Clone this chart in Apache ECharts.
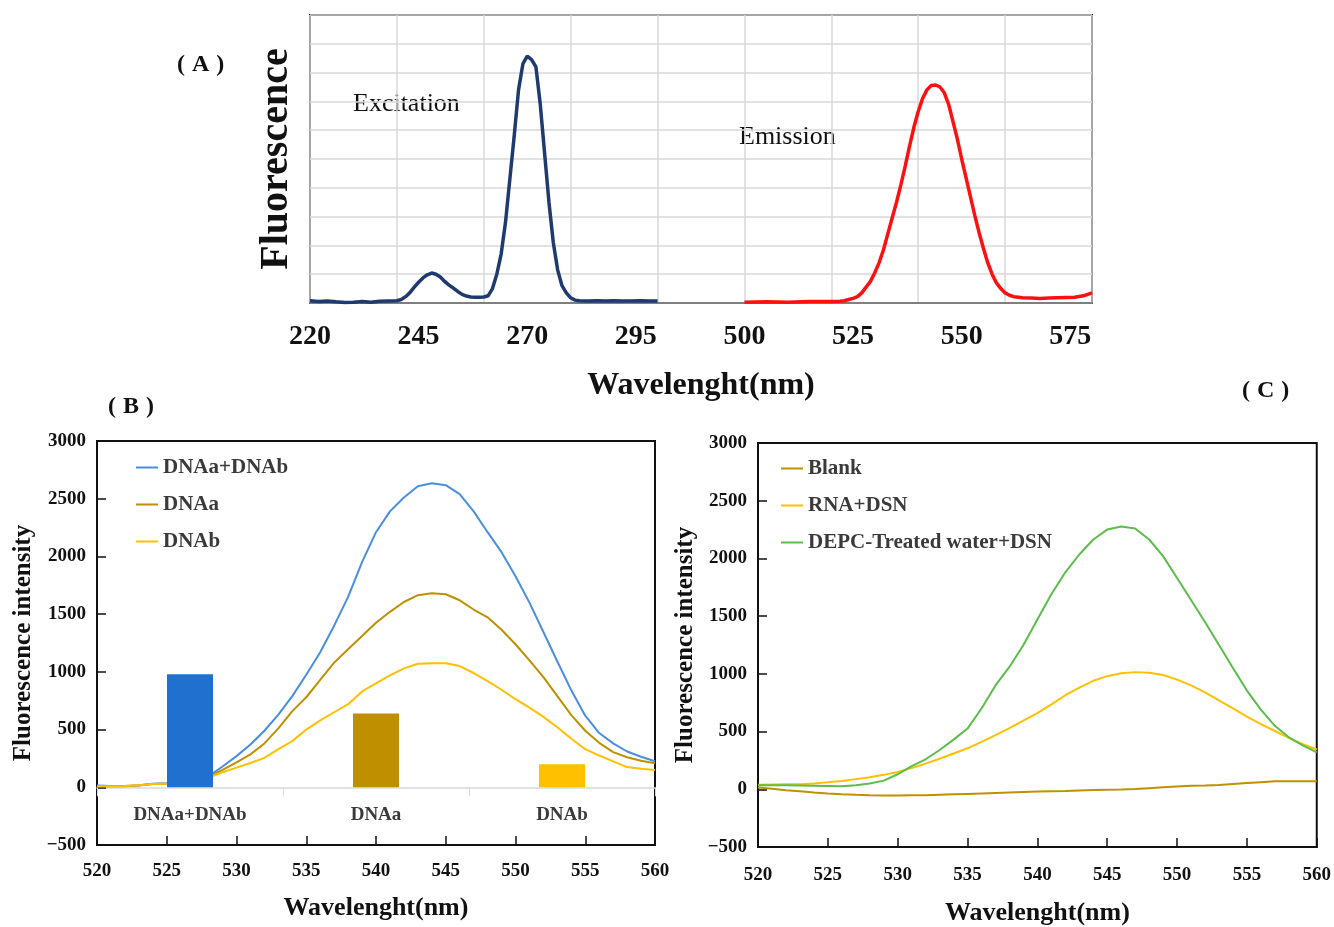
<!DOCTYPE html>
<html>
<head>
<meta charset="utf-8">
<script src="https://cdn.jsdelivr.net/npm/echarts@6/dist/echarts.min.js"></script>
<style>
  html, body { margin: 0; padding: 0; background: #fff; }
  #main { width: 1334px; height: 927px; }
</style>
</head>
<body>
<div id="main"></div>
<script>
const serif = '"Liberation Serif", "Times New Roman", serif';

// ---- (A) excitation / emission spectra (arbitrary units) ----
const excitationWl = [220, 222, 224, 226, 228, 230, 232, 234, 236, 238,
  240, 241, 242, 243, 244, 245, 246, 247, 248, 249, 250, 251, 252, 253, 254, 255, 256, 257, 258, 259,
  260, 261, 262, 263, 264, 265, 266, 267, 268, 269, 270, 271, 272, 273, 274, 275, 276, 277, 278, 279,
  280, 281, 282, 284, 286, 288, 290, 292, 294, 296, 298, 300];
const excitationVal = [0.08, 0.05, 0.07, 0.04, 0.02, 0.03, 0.05, 0.03, 0.06, 0.07,
  0.08, 0.12, 0.22, 0.36, 0.55, 0.72, 0.87, 0.98, 1.04, 1.0, 0.9, 0.75, 0.62, 0.52, 0.4, 0.3, 0.24, 0.21, 0.2, 0.2,
  0.21, 0.25, 0.5, 1.0, 1.7, 2.8, 4.3, 5.8, 7.4, 8.3, 8.57, 8.45, 8.2, 6.9, 5.2, 3.5, 2.1, 1.15, 0.6, 0.35,
  0.18, 0.1, 0.08, 0.07, 0.08, 0.07, 0.08, 0.07, 0.07, 0.08, 0.07, 0.07];
const emissionWl = [500, 505, 510, 515, 520, 522, 523, 524, 525, 526, 527, 528, 529,
  530, 531, 532, 533, 534, 535, 536, 537, 538, 539, 540, 541, 542, 543, 544, 545, 546, 547, 548, 549,
  550, 551, 552, 553, 554, 555, 556, 557, 558, 559, 560, 561, 562, 564, 566, 568, 570, 572, 574, 576, 578, 580];
const emissionVal = [0.03, 0.04, 0.03, 0.05, 0.05, 0.06, 0.08, 0.12, 0.16, 0.22, 0.35, 0.55, 0.75,
  1.05, 1.4, 1.85, 2.4, 2.95, 3.5, 4.1, 4.75, 5.45, 6.1, 6.65, 7.1, 7.4, 7.55, 7.57, 7.5, 7.3, 6.9, 6.3, 5.7,
  5.0, 4.35, 3.7, 3.05, 2.45, 1.9, 1.4, 1.0, 0.7, 0.5, 0.35, 0.27, 0.22, 0.18, 0.17, 0.16, 0.17, 0.18, 0.19, 0.2, 0.25, 0.35];
// broken wavelength axis: 220-300 then 500-580
const axisAStart = 220, breakFrom = 300, breakTo = 500, breakWidth = 20;

// ---- (B) ----
const wavelengthB = [520, 521, 522, 523, 524, 525, 526, 527, 528, 529, 530, 531, 532, 533, 534, 535, 536, 537, 538, 539,
  540, 541, 542, 543, 544, 545, 546, 547, 548, 549, 550, 551, 552, 553, 554, 555, 556, 557, 558, 559, 560];
const dnaAB = [15, 12, 10, 15, 30, 35, 45, 60, 95, 180, 270, 370, 490, 630, 790, 975, 1170, 1400, 1650, 1950,
  2210, 2390, 2510, 2608, 2634, 2617, 2540, 2390, 2210, 2037, 1829, 1600, 1345, 1090, 840, 620, 470, 380, 310, 265, 225];
const dnaA = [10, 10, 12, 18, 28, 32, 40, 55, 90, 150, 215, 285, 380, 510, 660, 780, 930, 1080, 1196, 1310,
  1425, 1520, 1605, 1664, 1681, 1672, 1620, 1540, 1473, 1365, 1239, 1100, 955, 790, 625, 490, 385, 305, 260, 230, 208];
const dnaB = [10, 10, 12, 18, 28, 30, 38, 50, 85, 130, 170, 210, 255, 330, 400, 500, 580, 650, 720, 830,
  900, 970, 1030, 1070, 1075, 1075, 1050, 990, 920, 845, 763, 690, 610, 520, 420, 330, 275, 225, 175, 160, 150];
const barCategories = ['DNAa+DNAb', 'DNAa', 'DNAb'];
const barValues = [980, 640, 200];

// ---- (C) ----
const wavelengthC = wavelengthB.slice();
const blank = [15, 5, -8, -18, -28, -36, -43, -48, -52, -53, -53, -52, -52, -48, -44, -40, -36, -32, -28, -24,
  -20, -17, -14, -10, -6, -3, -1, 2, 10, 18, 25, 30, 33, 38, 46, 54, 62, 69, 70, 70, 70];
const rnaDsn = [40, 42, 43, 44, 50, 60, 72, 88, 105, 125, 150, 185, 222, 265, 310, 355, 410, 470, 530, 595,
  660, 735, 815, 880, 940, 980, 1005, 1015, 1010, 990, 950, 900, 840, 770, 700, 630, 565, 505, 445, 390, 345];
const depcDsn = [34, 34, 34, 32, 30, 28, 26, 35, 50, 75, 130, 200, 260, 340, 430, 526, 700, 900, 1060, 1250,
  1470, 1690, 1880, 2034, 2164, 2250, 2276, 2260, 2164, 2020, 1830, 1640, 1450, 1250, 1050, 855, 690, 550, 450, 380, 319];

const intensityMin = -500, intensityMax = 3000;

const toAxisA = (wl) => wl <= breakFrom
  ? wl - axisAStart
  : wl - breakTo + (breakFrom - axisAStart) + breakWidth;
const fromAxisA = (p) => p < (breakFrom - axisAStart) + breakWidth
  ? axisAStart + p
  : breakTo + p - (breakFrom - axisAStart) - breakWidth;
const pairs = (xs, ys, fx) => xs.map((x, i) => [fx ? fx(x) : x, ys[i]]);

const bold = { fontFamily: serif, fontWeight: 'bold', color: '#111' };

const valueAxisY = (gridIndex, nameGap) => ({
  gridIndex,
  type: 'value',
  min: intensityMin,
  max: intensityMax,
  interval: 500,
  name: 'Fluorescence intensity',
  nameLocation: 'middle',
  nameGap,
  nameTextStyle: { ...bold, fontSize: 25 },
  axisLine: { show: true, onZero: false, lineStyle: { color: '#111', width: 2 } },
  axisTick: { show: true, inside: true, length: 9, lineStyle: { color: '#111', width: 1.5 } },
  axisLabel: { ...bold, fontSize: 19, margin: 11, formatter: (v) => (v < 0 ? '\u2212' + (-v) : String(v)) },
  splitLine: { show: false }
});

const wavelengthAxis = (gridIndex, nameGap, labelMargin) => ({
  gridIndex,
  type: 'value',
  position: 'bottom',
  min: 520,
  max: 560,
  interval: 5,
  name: 'Wavelenght(nm)',
  nameLocation: 'middle',
  nameGap,
  nameTextStyle: { ...bold, fontSize: 26 },
  axisLine: { onZero: false, lineStyle: { color: '#111', width: 2 } },
  axisTick: { inside: true, length: 9, lineStyle: { color: '#111', width: 1.5 } },
  axisLabel: { ...bold, fontSize: 19, margin: labelMargin },
  splitLine: { show: false }
});

const lineSeries = (name, xIdx, yIdx, data, color, width) => ({
  name,
  type: 'line',
  xAxisIndex: xIdx,
  yAxisIndex: yIdx,
  data,
  symbol: 'none',
  z: 2,
  lineStyle: { color, width },
  itemStyle: { color }
});

const legendStyle = (left, top, names) => ({
  left,
  top,
  orient: 'vertical',
  padding: 0,
  itemGap: 16,
  itemWidth: 22,
  itemHeight: 2,
  icon: 'rect',
  data: names,
  textStyle: { fontFamily: serif, fontWeight: 'bold', fontSize: 21, color: '#3a3a3a', lineHeight: 21 }
});

// wide-spaced "(X)" panel labels
const panelTitle = (letter, left, top) => ({
  text: '{l|(}' + letter + '{r|)}',
  left,
  top,
  textStyle: {
    ...bold,
    fontSize: 24,
    rich: {
      l: { ...bold, fontSize: 24, padding: [0, 7, 0, 0] },
      r: { ...bold, fontSize: 24, padding: [0, 0, 0, 7] }
    }
  }
});

const colors = {
  excitation: '#1f3a6e',
  emission: '#ff1010',
  dnaAB: '#4a8ee0',
  dnaA: '#bf9000',
  dnaB: '#ffc000',
  barAB: '#1f70cf',
  barA: '#bf8f00',
  barB: '#ffc000',
  blank: '#bf9000',
  rna: '#ffc000',
  depc: '#5cbd4a'
};

// panel (B) box; the bar chart sits on its own grid whose bottom is intensity 0
const gridB = { left: 97, top: 441, width: 558, height: 404 };
const barGridHeight = gridB.height * intensityMax / (intensityMax - intensityMin);

const chart = echarts.init(document.getElementById('main'));

chart.setOption({
  backgroundColor: '#fff',
  animation: false,
  title: [
    panelTitle('A', 172, 48),
    panelTitle('B', 103, 390),
    panelTitle('C', 1237, 374)
  ],
  graphic: [
    { type: 'text', left: 353, top: 91, style: { text: 'Excitation', font: '26px ' + serif, fill: '#111' } },
    { type: 'text', left: 739, top: 124, style: { text: 'Emission', font: '26px ' + serif, fill: '#111' } }
  ],
  legend: [
    legendStyle(136, 457, ['DNAa+DNAb', 'DNAa', 'DNAb']),
    legendStyle(781, 458, ['Blank', 'RNA+DSN', 'DEPC-Treated water+DSN'])
  ],
  grid: [
    { left: 310, top: 15, width: 782, height: 288, show: true, borderColor: '#111', borderWidth: 2 },
    { ...gridB, show: true, borderColor: '#111', borderWidth: 2 },
    { left: 758, top: 443, width: 560, height: 406, show: true, borderColor: '#111', borderWidth: 2 },
    { left: gridB.left, top: gridB.top, width: gridB.width, height: barGridHeight }
  ],
  xAxis: [
    // 0: grid lines of (A)
    {
      gridIndex: 0, type: 'value', position: 'bottom', min: 0, max: 180, interval: 20,
      axisLine: { onZero: false, lineStyle: { color: '#7f7f7f', width: 2 } },
      axisTick: { show: false },
      axisLabel: { show: false },
      splitLine: { show: true, lineStyle: { color: '#d9d9d9', width: 1.5 } }
    },
    // 1: wavelength labels of (A)
    {
      gridIndex: 0, type: 'value', position: 'bottom', min: 0, max: 180, interval: 25,
      name: 'Wavelenght(nm)', nameLocation: 'middle', nameGap: 67,
      nameTextStyle: { ...bold, fontSize: 32 },
      axisLine: { show: false, onZero: false },
      axisTick: { show: false },
      splitLine: { show: false },
      axisLabel: { ...bold, fontSize: 28, margin: 20, showMaxLabel: false, formatter: (v) => String(fromAxisA(v)) }
    },
    // 2: wavelength axis of (B)
    wavelengthAxis(1, 50, 17),
    // 3: category axis of the bars in (B)
    {
      gridIndex: 3, type: 'category', position: 'bottom', data: barCategories,
      axisLine: { onZero: false, lineStyle: { color: '#d9d9d9', width: 1.5 } },
      axisTick: { show: true, length: 9, lineStyle: { color: '#d9d9d9' } },
      axisLabel: { ...bold, fontSize: 19, color: '#3a3a3a', margin: 18 }
    },
    // 4: wavelength axis of (C)
    wavelengthAxis(2, 53, 19)
  ],
  yAxis: [
    {
      gridIndex: 0, type: 'value', min: 0, max: 10, interval: 1,
      name: 'Fluorescence', nameLocation: 'middle', nameGap: 13,
      nameTextStyle: { ...bold, fontSize: 40 },
      axisLine: { show: false },
      axisTick: { show: false },
      axisLabel: { show: false },
      splitLine: { show: true, lineStyle: { color: '#d9d9d9', width: 1.5 } }
    },
    valueAxisY(1, 61),
    valueAxisY(2, 60),
    // 3: hidden value axis of the bar grid (0 .. max)
    {
      gridIndex: 3, type: 'value', min: 0, max: intensityMax,
      axisLine: { show: false }, axisTick: { show: false }, axisLabel: { show: false }, splitLine: { show: false }
    }
  ],
  series: [
    lineSeries('Excitation', 0, 0, pairs(excitationWl, excitationVal, toAxisA), colors.excitation, 3.5),
    lineSeries('Emission', 0, 0, pairs(emissionWl, emissionVal, toAxisA), colors.emission, 3.5),

    lineSeries('DNAa+DNAb', 2, 1, pairs(wavelengthB, dnaAB), colors.dnaAB, 2),
    lineSeries('DNAa', 2, 1, pairs(wavelengthB, dnaA), colors.dnaA, 2),
    lineSeries('DNAb', 2, 1, pairs(wavelengthB, dnaB), colors.dnaB, 2),
    {
      type: 'bar',
      xAxisIndex: 3,
      yAxisIndex: 3,
      barWidth: 46,
      z: 5,
      data: barValues.map((v, i) => ({
        value: v,
        itemStyle: { color: [colors.barAB, colors.barA, colors.barB][i] }
      }))
    },

    lineSeries('Blank', 4, 2, pairs(wavelengthC, blank), colors.blank, 2),
    lineSeries('RNA+DSN', 4, 2, pairs(wavelengthC, rnaDsn), colors.rna, 2),
    lineSeries('DEPC-Treated water+DSN', 4, 2, pairs(wavelengthC, depcDsn), colors.depc, 2)
  ]
});
</script>
</body>
</html>
